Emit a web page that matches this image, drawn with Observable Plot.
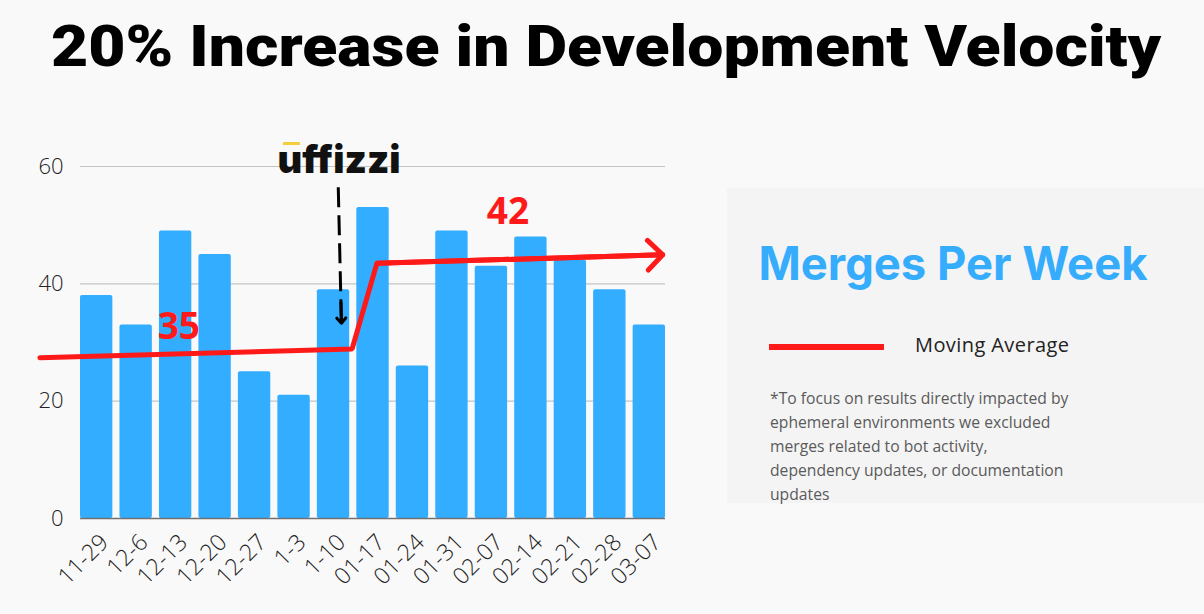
<!DOCTYPE html>
<html>
<head>
<meta charset="utf-8">
<script src="https://cdn.jsdelivr.net/npm/d3@7"></script>
<script src="https://cdn.jsdelivr.net/npm/@observablehq/plot@0.6"></script>
<style>
  html, body { margin: 0; padding: 0; background: #f9f9f9; }
  #page { position: relative; width: 1204px; height: 614px; overflow: hidden; background: #f9f9f9; }
  #deco { position: absolute; left: 0; top: 0; }
  #chart { position: absolute; left: 0; top: 100px; }
  #chart svg { overflow: visible; }
</style>
</head>
<body>
<div id="page">
  <svg id="deco" width="1204" height="614">
    <rect x="727" y="188" width="477" height="315" fill="#f4f4f4"></rect>
    <text x="606" y="66" text-anchor="middle" font-family="Roboto" font-weight="900" font-size="58" fill="#000" textLength="1110" lengthAdjust="spacingAndGlyphs">20% Increase in Development Velocity</text>
    <text x="953" y="280" text-anchor="middle" font-family="Inter" font-weight="700" font-size="46" fill="#35acfc" textLength="389" lengthAdjust="spacingAndGlyphs">Merges Per Week</text>
    <rect x="769" y="344" width="115" height="6" fill="#ff1a1a"></rect>
    <text x="915" y="352" font-family="Open Sans" font-size="20" fill="#222" textLength="154">Moving Average</text>
    <text font-family="Open Sans" font-size="15.7" fill="#5a5a5a">
      <tspan x="770" y="404">*To focus on results directly impacted by</tspan>
      <tspan x="770" y="428">ephemeral environments we excluded</tspan>
      <tspan x="770" y="452">merges related to bot activity,</tspan>
      <tspan x="770" y="476">dependency updates, or documentation</tspan>
      <tspan x="770" y="500">updates</tspan>
    </text>
  </svg>
  <div id="chart"></div>
</div>
<script>
// ---- data ----
const weeks = ["11-29","12-6","12-13","12-20","12-27","1-3","1-10","01-17","01-24","01-31","02-07","02-14","02-21","02-28","03-07"];
const merges = [38, 33, 49, 45, 25, 21, 39, 53, 26, 49, 43, 48, 44, 39, 33];
const yTicks = [0, 20, 40, 60];
const gridTicks = [20, 40, 60];

// moving average trend (position in week-index units, value in merges)
const avgPos = [-1.44, 6.47, 7.10, 14.34];
const avgVal = [27.4, 28.9, 43.5, 44.95];

// annotations
const noteText = ["35", "42"];
const notePos = [2.08, 10.42];
const noteVal = [32.7, 52.2];

const logoText = "uffizzi";
const logoPos = 6.14;
const logoVal = 60.94;
const macronPos = [4.72, 5.15];
const macronVal = 63.92;

const pointerPos = [6.12, 6.20];
const pointerVal = [56.47, 33.29];

// ---- derived tables ----
const bars = weeks.map((w, i) => ({i, week: w, value: merges[i]}));
const avg = avgPos.map((p, k) => ({x: p, y: avgVal[k]}));
const notes = noteText.map((t, k) => ({t, x: notePos[k], y: noteVal[k]}));
const half = 0.41;
const RED = "#ff1a1a";
const BLUE = "#33adff";

const chart = Plot.plot({
  width: 700,
  height: 514,
  marginLeft: 80,
  marginRight: 35,
  marginTop: 66,
  marginBottom: 96,
  style: {background: "transparent", fontFamily: "Open Sans", overflow: "visible"},
  x: {type: "linear", domain: [-half, weeks.length - 1 + half]},
  y: {domain: [0, 60]},
  marks: [
    Plot.gridY(gridTicks, {stroke: "#c4c4c4", strokeOpacity: 1, strokeWidth: 1.2}),
    Plot.rectY(bars, {x1: d => d.i - half, x2: d => d.i + half, y1: 0, y2: "value", fill: BLUE, rx: 2}),
    Plot.ruleY([0], {stroke: "#707070", strokeWidth: 1.5}),
    Plot.axisY({ticks: yTicks, tickSize: 0, tickPadding: 17, fontSize: 22, fontWeight: 300, color: "#222", label: null}),
    Plot.axisX({ticks: d3.range(weeks.length), tickFormat: i => weeks[i], tickRotate: -45, tickSize: 0, tickPadding: 20, dx: 8, fontSize: 23, fontWeight: 300, color: "#222", label: null}),
    Plot.line(avg, {x: "x", y: "y", stroke: RED, strokeWidth: 5, strokeLinejoin: "miter"}),
    Plot.arrow([{x1: avg[2].x, y1: avg[2].y, x2: avg[3].x, y2: avg[3].y}], {x1: "x1", y1: "y1", x2: "x2", y2: "y2", stroke: RED, strokeWidth: 5, headLength: 6.3, headAngle: 90}),
    Plot.text(notes, {x: "x", y: "y", text: "t", fill: RED, fontSize: 37, fontWeight: 700, fontFamily: "Open Sans"}),
    Plot.text([logoText], {x: logoPos, y: logoVal, text: d => d, fill: "#111", fontSize: 38, fontWeight: 900, fontFamily: "Inter", textAnchor: "middle"}),
    Plot.link([0], {x1: macronPos[0], x2: macronPos[1], y1: macronVal, y2: macronVal, stroke: "#f5cf3a", strokeWidth: 3}),
    Plot.link([0], {x1: pointerPos[0], y1: pointerVal[0], x2: pointerPos[1], y2: pointerVal[1], stroke: "#000", strokeWidth: 3, strokeDasharray: "20,8"}),
    Plot.arrow([0], {x1: pointerPos[0] + (pointerPos[1] - pointerPos[0]) * 0.85, y1: pointerVal[0] + (pointerVal[1] - pointerVal[0]) * 0.85, x2: pointerPos[1], y2: pointerVal[1], stroke: "#000", strokeWidth: 3, headLength: 5.5, headAngle: 82})
  ]
});
document.getElementById("chart").appendChild(chart);
</script>
</body>
</html>
